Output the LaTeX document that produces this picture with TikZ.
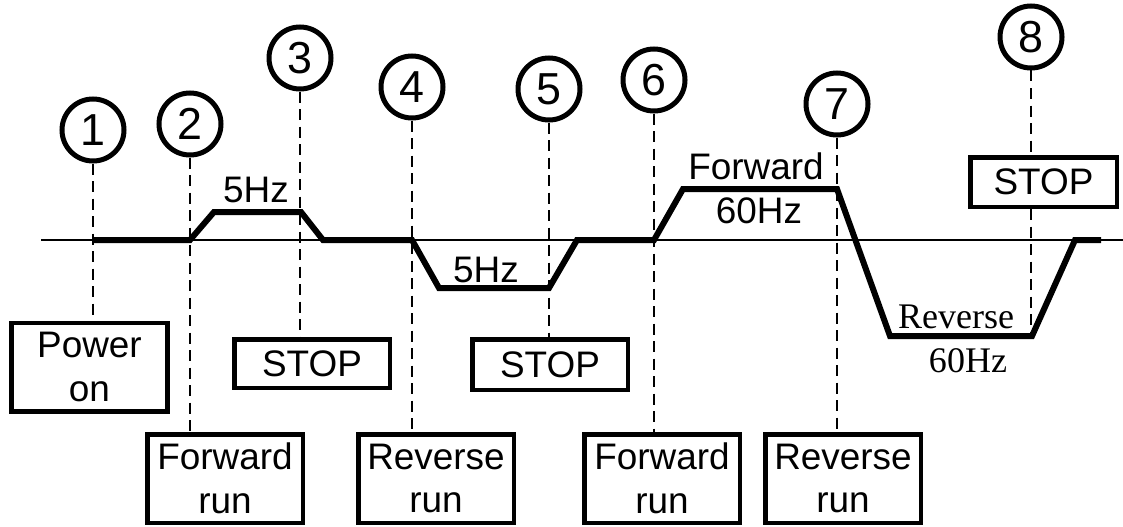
\documentclass[tikz,border=0pt]{standalone}
\usepackage{fontspec}
\setmainfont{Liberation Sans}
\newfontfamily\serifhz{Liberation Serif}
\usepackage{xcolor}
\usepackage{tikz}
\tikzset{%
  stepnum/.style={draw, circle, line width=0.1cm, minimum size=1.24cm, inner sep=0pt, font=\fontsize{25.5pt}{30pt}\selectfont},%
  cmdbox/.style={draw, rectangle, line width=0.09cm, inner sep=0pt, align=center, font=\fontsize{21pt}{25pt}\selectfont},%
  guide/.style={dash pattern=on 0.22cm off 0.13cm, line width=0.055cm},%
  freq/.style={draw, line width=0.12cm, line join=miter},%
  hzlabel/.style={anchor=base, inner sep=0pt, font=\fontsize{21pt}{25pt}\selectfont},%
  hzserif/.style={anchor=base, inner sep=0pt, font=\serifhz\fontsize{20.5pt}{24pt}\selectfont},%
}

\begin{document}
\begin{tikzpicture}%
\useasboundingbox (0,0) rectangle (22.46,-10.54);%
\node[stepnum] (c1) at (1.86, -2.60) {1};%
\node[stepnum] (c2) at (3.80, -2.48) {2};%
\node[stepnum] (c3) at (6.00, -1.16) {3};%
\node[stepnum] (c4) at (8.24, -1.74) {4};%
\node[stepnum] (c5) at (10.98, -1.78) {5};%
\node[stepnum] (c6) at (13.08, -1.60) {6};%
\node[stepnum] (c7) at (16.74, -2.08) {7};%
\node[stepnum] (c8) at (20.62, -0.74) {8};%
\node[cmdbox, minimum width=3.11cm, minimum height=1.77cm] (pwr) at (1.79, -7.34) {Power\\on};%
\node[cmdbox, minimum width=3.11cm, minimum height=0.97cm] (stopa) at (6.24, -7.27) {STOP};%
\node[cmdbox, minimum width=3.11cm, minimum height=1.01cm] (stopb) at (11.00, -7.29) {STOP};%
\node[cmdbox, minimum width=2.93cm, minimum height=0.99cm] (stopc) at (20.87, -3.64) {STOP};%
\node[cmdbox, minimum width=3.11cm, minimum height=1.77cm] (fwda) at (4.50, -9.57) {Forward\\run};%
\node[cmdbox, minimum width=3.11cm, minimum height=1.77cm] (reva) at (8.72, -9.57) {Reverse\\run};%
\node[cmdbox, minimum width=3.11cm, minimum height=1.77cm] (fwdb) at (13.24, -9.57) {Forward\\run};%
\node[cmdbox, minimum width=3.11cm, minimum height=1.77cm] (revb) at (16.86, -9.57) {Reverse\\run};%
\coordinate (troughend) at (20.64, -6.72);%
\draw[guide] (c1.south) -- (c1.south |- pwr.north);%
\draw[guide] (c2.south) -- (c2.south |- fwda.north);%
\draw[guide] (c3.south) -- (c3.south |- stopa.north);%
\draw[guide] (c4.south) -- (c4.south |- reva.north);%
\draw[guide] (c5.south) -- (c5.south |- stopb.north);%
\draw[guide] (c6.south) -- (c6.south |- fwdb.north);%
\draw[guide] (c7.south) -- (c7.south |- revb.north);%
\draw[guide] (c8.south) -- (c8.south |- stopc.north);%
\draw[guide] (c8.south |- stopc.south) -- (c8.south |- troughend);%
\draw[line width=0.04cm] (0.82, -4.80) -- (22.46, -4.80);%
\draw[freq] (1.86, -4.80) -- (3.80, -4.80) -- (4.28, -4.24) -- (6.02, -4.24) -- (6.46, -4.80) -- (8.24, -4.80) -- (8.78, -5.76) -- (10.98, -5.76) -- (11.54, -4.80) -- (13.08, -4.80) -- (13.66, -3.78) -- (16.74, -3.78) -- (17.80, -6.72) -- (troughend) -- (21.50, -4.80) -- (22.02, -4.80);%
\node[hzlabel] (hzfa) at (5.12, -4.04) {5Hz};%
\node[hzlabel] (hzra) at (9.72, -5.64) {5Hz};%
\node[hzlabel] (fwdtxt) at (15.12, -3.58) {Forward};%
\node[hzlabel] (hzfb) at (15.18, -4.46) {60Hz};%
\node[hzserif] (revtxt) at (19.12, -6.56) {Reverse};%
\node[hzserif] (hzrb) at (19.36, -7.44) {60Hz};%
\end{tikzpicture}
\end{document}
